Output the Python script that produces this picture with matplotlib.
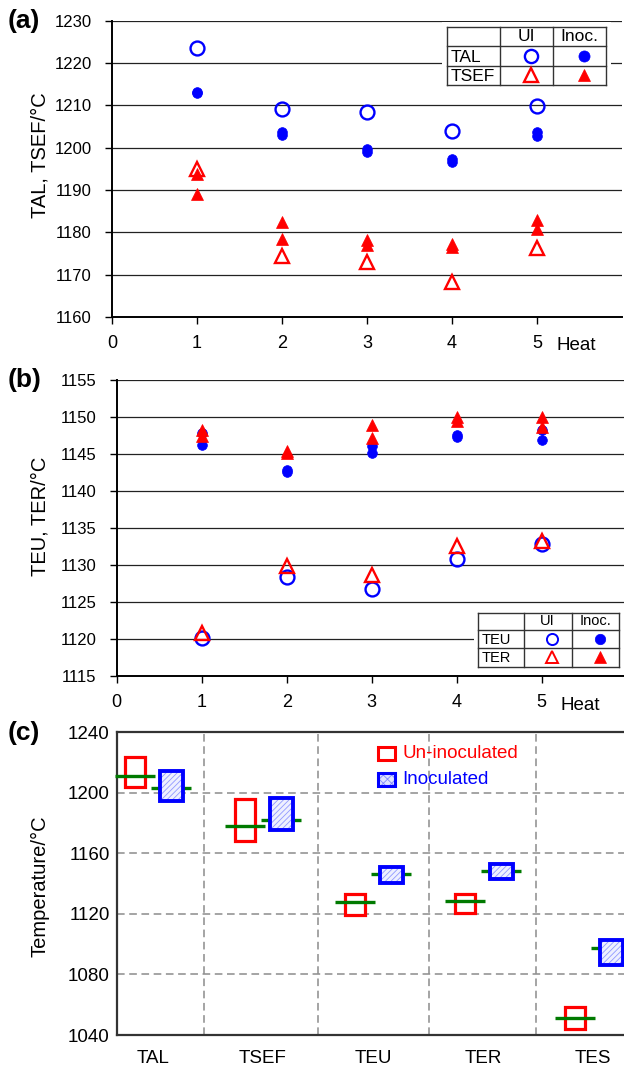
import numpy as np
import matplotlib
matplotlib.use("Agg")
import matplotlib.pyplot as plt
from matplotlib.patches import Rectangle
from matplotlib.lines import Line2D

plt.rcParams["font.family"] = ["Liberation Sans", "DejaVu Sans"]
plt.rcParams["hatch.linewidth"] = 0.6

# ---------------------------------------------------------------
# data
# ---------------------------------------------------------------
heats = [1, 2, 3, 4, 5]

# (a) liquidus / eutectic-start temperatures
tal_ui = [1223.5, 1209.2, 1208.5, 1204.0, 1209.8]
tal_inoc_1 = [1213.1, 1203.8, 1199.7, 1197.3, 1203.8]
tal_inoc_2 = [1213.0, 1203.0, 1198.9, 1196.7, 1202.8]
tsef_ui = [1194.9, 1174.3, 1172.9, 1168.3, 1176.2]
tsef_inoc_1 = [1193.7, 1182.4, 1178.2, 1177.2, 1182.9]
tsef_inoc_2 = [1189.0, 1178.4, 1177.0, 1176.5, 1180.7]

# (b) eutectic undercooling / recalescence temperatures
teu_ui = [1120.1, 1128.4, 1126.8, 1130.8, 1132.9]
teu_inoc_1 = [1147.9, 1142.8, 1146.1, 1147.6, 1148.2]
teu_inoc_2 = [1146.2, 1142.5, 1145.1, 1147.3, 1146.9]
ter_ui = [1120.8, 1129.8, 1128.6, 1132.6, 1133.3]
ter_inoc_1 = [1148.3, 1145.4, 1148.9, 1150.0, 1150.0]
ter_inoc_2 = [1147.4, 1145.1, 1147.1, 1149.5, 1148.7]

# (c) ranges (min, max) and means per characteristic temperature
cats = ["TAL", "TSEF", "TEU", "TER", "TES"]
ui_low = [1203.7, 1168.5, 1119.6, 1120.7, 1043.7]
ui_high = [1223.9, 1195.8, 1133.4, 1133.4, 1058.7]
ui_mean = [1211.4, 1177.8, 1127.9, 1128.8, 1051.5]
in_low = [1194.9, 1175.6, 1140.5, 1143.1, 1086.1]
in_high = [1214.5, 1196.5, 1151.0, 1153.0, 1102.6]
in_mean = [1203.3, 1182.2, 1146.4, 1148.1, 1097.2]
sep_pos = [1.46, 2.5, 3.51, 4.48]

BLUE = "#0000ff"
RED = "#ff0000"
GREEN = "#007a00"

W, H = 624, 1066
fig = plt.figure(figsize=(W / 100, H / 100), dpi=100)


def px_axes(left, top, right, bottom):
    return fig.add_axes([left / W, 1 - bottom / H, (right - left) / W, (bottom - top) / H])


def fx(x):
    return x / W


def fy(y):
    return 1 - y / H


def style_scatter_axes(ax, ylim, yticks):
    ax.set_ylim(*ylim)
    ax.set_yticks(yticks)
    ax.set_xticks(range(0, 6))
    ax.grid(axis="y", color="#222222", lw=0.9)
    ax.set_axisbelow(True)
    for s in ["top", "right"]:
        ax.spines[s].set_visible(False)
    ax.spines["left"].set_linewidth(1.4)
    ax.spines["bottom"].set_linewidth(1.4)
    ax.tick_params(axis="both", length=5, width=1, direction="out")
    ax.tick_params(axis="y", pad=9.5, labelsize=12)
    ax.tick_params(axis="x", pad=8, labelsize=13)


def draw_table(x0, y0, cols, rows, header, labels, ui_markers, inoc_markers, fs, pad, pad_right):
    # white backing that breaks the gridline behind the table
    fig.add_artist(Rectangle((fx(x0 - pad), fy(rows[-1] + pad)),
                             fx(cols[-1] + pad_right) - fx(x0 - pad), fy(y0 - pad) - fy(rows[-1] + pad),
                             transform=fig.transFigure, facecolor="white", edgecolor="none", zorder=5))
    xs = [x0] + cols
    ys = [y0] + rows
    for x in xs:
        fig.add_artist(Line2D([fx(x), fx(x)], [fy(ys[0]), fy(ys[-1])], transform=fig.transFigure,
                              color="#333333", lw=1.0, zorder=6))
    for y in ys:
        fig.add_artist(Line2D([fx(xs[0]), fx(xs[-1])], [fy(y), fy(y)], transform=fig.transFigure,
                              color="#333333", lw=1.0, zorder=6))
    for j, h in enumerate(header):
        cx = (xs[j + 1] + xs[j + 2]) / 2
        fig.text(fx(cx), fy((ys[0] + ys[1]) / 2), h, ha="center", va="center", fontsize=fs, zorder=7)
    for i, lab in enumerate(labels):
        cy = (ys[i + 1] + ys[i + 2]) / 2
        fig.text(fx(x0 + 4), fy(cy + 1), lab, ha="left", va="center", fontsize=fs, zorder=7)
        for j, mk in enumerate([ui_markers[i], inoc_markers[i]]):
            cx = (xs[j + 1] + xs[j + 2]) / 2 + 4
            fig.add_artist(Line2D([fx(cx)], [fy(cy)], transform=fig.transFigure, zorder=7, **mk))


# ---------------------------------------------------------------
# (a)
# ---------------------------------------------------------------
ax1 = px_axes(112, 20.7, 622, 317)
ax1.set_xlim(0, 6)
style_scatter_axes(ax1, (1160, 1230), range(1160, 1231, 10))

open_c = dict(marker="o", ms=10, mfc="none", mec=BLUE, mew=1.7, ls="none")
fill_c = dict(marker="o", ms=7, mfc=BLUE, mec=BLUE, mew=0.5, ls="none")
open_t = dict(marker="^", ms=10.5, mfc="none", mec=RED, mew=1.7, ls="none")
fill_t = dict(marker="^", ms=8.5, mfc=RED, mec=RED, mew=0.5, ls="none")

ax1.plot(heats, tal_inoc_1, **fill_c)
ax1.plot(heats, tal_inoc_2, **fill_c)
ax1.plot(heats, tal_ui, **open_c)
ax1.plot(heats, tsef_inoc_1, **fill_t)
ax1.plot(heats, tsef_inoc_2, **fill_t)
ax1.plot(heats, tsef_ui, **open_t)
for ln in ax1.lines:
    ln.set_clip_on(False)

fig.text(fx(557), fy(345), "Heat", ha="left", va="center", fontsize=13.5)
fig.text(fx(8), fy(21), "(a)", ha="left", va="center", fontsize=19, fontweight="bold")
fig.text(fx(40), fy(155), "TAL, TSEF/\u00b0C", rotation=90, ha="center", va="center", fontsize=14.5)

draw_table(447, 27, [500, 553, 606], [46, 66, 85], ["UI", "Inoc."], ["TAL", "TSEF"],
           [dict(open_c, ms=9.5), dict(open_t, ms=10)],
           [dict(fill_c, ms=8), dict(fill_t, ms=9)], fs=12.5, pad=5, pad_right=5)

# ---------------------------------------------------------------
# (b)
# ---------------------------------------------------------------
ax2 = px_axes(116.7, 380, 624, 676)
ax2.set_xlim(0, (624 - 116.7) / 85)
style_scatter_axes(ax2, (1115, 1155), range(1115, 1156, 5))

ax2.plot(heats, teu_inoc_1, **fill_c)
ax2.plot(heats, teu_inoc_2, **fill_c)
ax2.plot(heats, ter_inoc_1, **fill_t)
ax2.plot(heats, ter_inoc_2, **fill_t)
ax2.plot(heats, teu_ui, **open_c)
ax2.plot(heats, ter_ui, **open_t)

fig.text(fx(561), fy(705), "Heat", ha="left", va="center", fontsize=13.5)
fig.text(fx(8), fy(380), "(b)", ha="left", va="center", fontsize=19, fontweight="bold")
fig.text(fx(40), fy(516), "TEU, TER/\u00b0C", rotation=90, ha="center", va="center", fontsize=14.5)

draw_table(477.7, 612.7, [523.7, 571.7, 619.3], [630, 648, 666.7], ["UI", "Inoc."], ["TEU", "TER"],
           [dict(open_c, ms=8, mew=1.4), dict(open_t, ms=8.5, mew=1.4)],
           [dict(fill_c, ms=7.5), dict(fill_t, ms=8)], fs=10.5, pad=4, pad_right=10)

# ---------------------------------------------------------------
# (c)
# ---------------------------------------------------------------
ax3 = px_axes(116.7, 732.3, 624, 1035)
pos = np.arange(1, len(cats) + 1)
ax3.set_xlim(1 - 36.3 / 110, 1 + (624 - 153) / 110)
ax3.set_ylim(1040, 1240)
ax3.set_yticks(range(1040, 1241, 40))
ax3.set_xticks(pos)
ax3.set_xticklabels(cats)
ax3.tick_params(axis="both", labelsize=13.5, length=0)
ax3.tick_params(axis="y", pad=5)
ax3.tick_params(axis="x", pad=11)
for y in range(1080, 1240, 40):
    ax3.axhline(y, color="#8c8c8c", lw=1.1, ls=(0, (5, 3)), zorder=1)
for xs in sep_pos:
    ax3.axvline(xs, color="#8c8c8c", lw=1.1, ls=(0, (5, 3)), zorder=1)
for s in ["left", "top", "bottom"]:
    ax3.spines[s].set_linewidth(1.6)
    ax3.spines[s].set_color("#333333")
ax3.spines["right"].set_visible(False)

off = 0.165
for i, p in enumerate(pos):
    # un-inoculated
    ax3.add_patch(Rectangle((p - off - 0.09, ui_low[i]), 0.18, ui_high[i] - ui_low[i],
                            facecolor="white", edgecolor=RED, lw=2.3, zorder=3))
    ax3.plot([p - off - 0.18, p - off + 0.18], [ui_mean[i]] * 2, color=GREEN, lw=2.4,
             zorder=4, solid_capstyle="butt", clip_on=False)
    # inoculated
    ax3.add_patch(Rectangle((p + off - 0.105, in_low[i]), 0.21, in_high[i] - in_low[i],
                            facecolor="#eef0ff", edgecolor="#9098ff", hatch="//////", lw=0, zorder=3))
    ax3.add_patch(Rectangle((p + off - 0.105, in_low[i]), 0.21, in_high[i] - in_low[i],
                            facecolor="none", edgecolor=BLUE, lw=2.8, zorder=3))
    ax3.plot([p + off - 0.18, p + off + 0.18], [in_mean[i]] * 2, color=GREEN, lw=2.4,
             zorder=2.5, solid_capstyle="butt")

fig.text(fx(8), fy(733), "(c)", ha="left", va="center", fontsize=19, fontweight="bold")
fig.text(fx(40), fy(886), "Temperature/\u00b0C", rotation=90, ha="center", va="center", fontsize=14.5)

# legend of (c)
fig.add_artist(Rectangle((fx(378), fy(760)), fx(17), fy(747) - fy(760), transform=fig.transFigure,
                         facecolor="white", edgecolor=RED, lw=2.2, zorder=5))
fig.add_artist(Rectangle((fx(378), fy(786)), fx(17), fy(773) - fy(786), transform=fig.transFigure,
                         facecolor="#dfe2ff", edgecolor="#8088ff", hatch="xxxx", lw=0, zorder=5))
fig.add_artist(Rectangle((fx(378), fy(786)), fx(17), fy(773) - fy(786), transform=fig.transFigure,
                         facecolor="none", edgecolor=BLUE, lw=2.2, zorder=5))
fig.text(fx(402), fy(753.5), "Un-inoculated", color=RED, ha="left", va="center", fontsize=13.5, zorder=6)
fig.text(fx(402), fy(780), "Inoculated", color=BLUE, ha="left", va="center", fontsize=13.5, zorder=6)

fig.savefig("out.png", dpi=100)
